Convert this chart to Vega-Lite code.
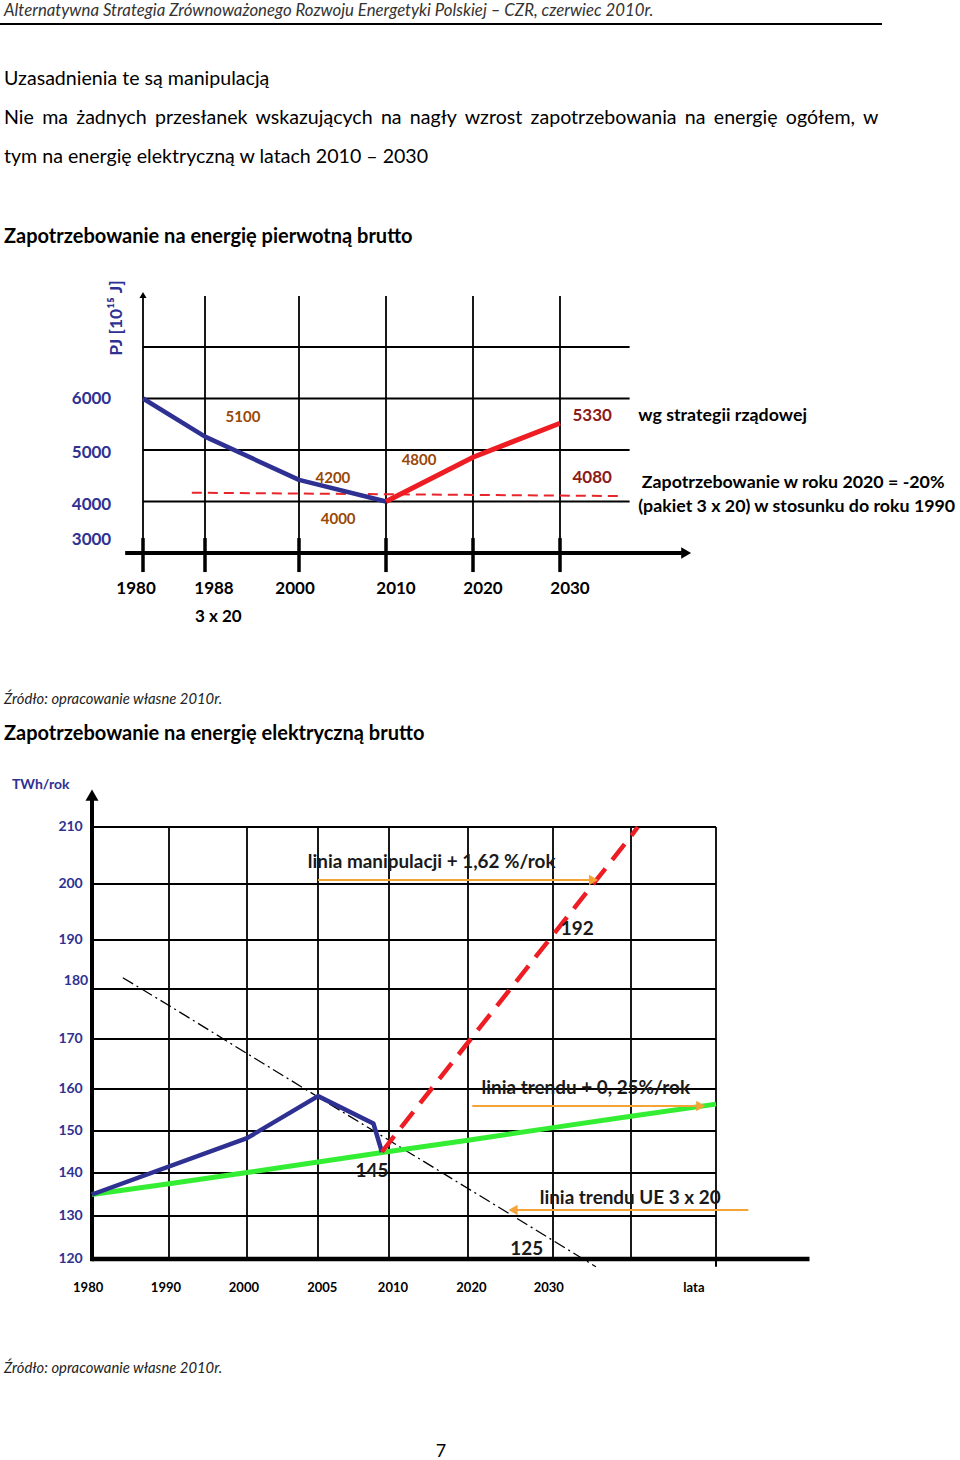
{
  "$schema": "https://vega.github.io/schema/vega-lite/v6.json",
  "padding": {"top": 3, "left": 0, "right": 0, "bottom": 0},
  "background": "white",
  "spacing": 5,
  "config": {"view": {"stroke": null}, "font": "Lato"},
  "datasets": {
    "pj_primary": [{"year": 1980, "pj": 6000}, {"year": 1988, "pj": 5260}, {"year": 2000, "pj": 4420}, {"year": 2010, "pj": 4000}],
    "pj_strategy": [{"year": 2010, "pj": 4000}, {"year": 2020, "pj": 4860}, {"year": 2030, "pj": 5520}],
    "pj_target": [{"year": 1986.3, "pj": 4170}, {"year": 2037, "pj": 4105}],
    "pj_hgrid": [{"pj": 4000}, {"pj": 5000}, {"pj": 6000}, {"pj": 7000}],
    "pj_vgrid": [{"year": 1980}, {"year": 1988}, {"year": 2000}, {"year": 2010}, {"year": 2020}, {"year": 2030}],
    "pj_ylabels": [{"label": "6000", "pj": 6000}, {"label": "5000", "pj": 4940}, {"label": "4000", "pj": 3930}, {"label": "3000", "pj": 3250}],
    "pj_xlabels": [{"label": "1980", "year": 1979.1}, {"label": "1988", "year": 1989.15}, {"label": "2000", "year": 1999.5}, {"label": "2010", "year": 2011.15}, {"label": "2020", "year": 2021.15}, {"label": "2030", "year": 2031.15}],
    "pj_values": [{"label": "5100", "year": 1992.85, "pj": 5641}, {"label": "4200", "year": 2003.9, "pj": 4456}, {"label": "4000", "year": 2004.5, "pj": 3660}, {"label": "4800", "year": 2013.8, "pj": 4806}],
    "pj_values2": [{"label": "5330", "year": 2033.7, "pj": 5660}, {"label": "4080", "year": 2033.7, "pj": 4456}],
    "pj_notes": [{"label": "wg strategii rządowej", "year": 2039, "pj": 5660}, {"label": "Zapotrzebowanie w roku 2020 = -20%", "year": 2039.4, "pj": 4359}, {"label": "(pakiet 3 x 20) w stosunku do roku 1990", "year": 2039, "pj": 3893}],
    "el_hgrid": [{"twh": 130}, {"twh": 140}, {"twh": 150}, {"twh": 160}, {"twh": 170}, {"twh": 180}, {"twh": 190}, {"twh": 200}, {"twh": 210}],
    "el_vgrid": [{"year": 1990}, {"year": 2000}, {"year": 2005}, {"year": 2010}, {"year": 2020}, {"year": 2030}, {"year": 2040}, {"year": 2050}],
    "el_actual": [{"year": 1980, "twh": 135}, {"year": 2000, "twh": 148.3}, {"year": 2005, "twh": 158.3}, {"year": 2008.9, "twh": 151.8}, {"year": 2009.5, "twh": 145}],
    "el_trend": [{"year": 1980, "twh": 135}, {"year": 1990, "twh": 137.5}, {"year": 2000, "twh": 140.1}, {"year": 2005, "twh": 142.6}, {"year": 2010, "twh": 145.1}, {"year": 2020, "twh": 147.8}, {"year": 2030, "twh": 150.8}, {"year": 2040, "twh": 153.5}, {"year": 2050, "twh": 156.4}],
    "el_manip": [{"year": 2009.5, "twh": 145}, {"year": 2010, "twh": 147.2}, {"year": 2020, "twh": 169.3}, {"year": 2030, "twh": 190.9}, {"year": 2040, "twh": 208.4}, {"year": 2040.8, "twh": 210}],
    "el_eu": [{"year": 1984, "twh": 182.3}, {"year": 1990, "twh": 176.7}, {"year": 2000, "twh": 167.1}, {"year": 2005, "twh": 158.1}, {"year": 2010, "twh": 147.8}, {"year": 2020, "twh": 136.4}, {"year": 2030, "twh": 124.3}, {"year": 2035.5, "twh": 118.2}],
    "el_arrows": [{"from": 2005, "to": 2035.2, "twh": 200.7, "dir": "right"}, {"from": 2020.5, "to": 2048.2, "twh": 155.95, "dir": "right"}, {"from": 2053.8, "to": 2025.3, "twh": 131.4, "dir": "left"}],
    "el_notes": [{"label": "linia manipulacji + 1,62 %/rok", "year": 2015.4, "twh": 203.9}, {"label": "192", "year": 2033.1, "twh": 192.0}, {"label": "linia trendu + 0, 25%/rok", "year": 2034.2, "twh": 160.2}, {"label": "145", "year": 2008.8, "twh": 140.5}, {"label": "linia trendu UE 3 x 20", "year": 2039.9, "twh": 134.2}, {"label": "125", "year": 2026.9, "twh": 122.3}],
    "el_ylabels": [{"label": "210", "twh": 210, "year": 1978.8}, {"label": "200", "twh": 200, "year": 1978.8}, {"label": "190", "twh": 190, "year": 1978.8}, {"label": "180", "twh": 181.6, "year": 1979.5}, {"label": "170", "twh": 170, "year": 1978.8}, {"label": "160", "twh": 160, "year": 1978.8}, {"label": "150", "twh": 150, "year": 1978.8}, {"label": "140", "twh": 140, "year": 1978.8}, {"label": "130", "twh": 130, "year": 1978.8}, {"label": "120", "twh": 120, "year": 1978.8}],
    "el_xlabels": [{"label": "1980", "year": 1979.5}, {"label": "1990", "year": 1989.6}, {"label": "2000", "year": 1999.6}, {"label": "2005", "year": 2005.3}, {"label": "2010", "year": 2010.5}, {"label": "2020", "year": 2020.4}, {"label": "2030", "year": 2029.5}, {"label": "lata", "year": 2047.4}]
  },
  "vconcat": [
    {
      "width": 882,
      "height": 2,
      "view": {"fill": "black", "stroke": null},
      "title": {"text": "Alternatywna Strategia Zrównoważonego Rozwoju Energetyki Polskiej – CZR, czerwiec 2010r.", "anchor": "start", "frame": "group", "fontSize": 16.8, "fontStyle": "italic", "fontWeight": "normal", "color": "#333333", "dx": 4, "offset": 3},
      "data": {"values": []},
      "mark": "point"
    },
    {
      "width": 960,
      "height": 427,
      "title": {
        "text": ["", "Uzasadnienia te są manipulacją", "Nie\u2006 ma\u2006 żadnych\u2006 przesłanek\u2006 wskazujących\u2006 na\u2006 nagły\u2006 wzrost\u2006 zapotrzebowania\u2006 na\u2006 energię\u2006 ogółem,\u2006 w", "tym na energię elektryczną w latach 2010 – 2030"],
        "anchor": "start", "frame": "group", "fontSize": 19.6, "fontWeight": "normal", "color": "black", "lineHeight": 39, "dx": 4, "offset": 12,
        "subtitle": "Zapotrzebowanie na energię pierwotną brutto", "subtitleFontSize": 20, "subtitleFontWeight": "bold", "subtitleColor": "black", "subtitlePadding": 59
      },
      "resolve": {"scale": {"x": "independent", "y": "independent"}},
      "layer": [
        {"data": {"name": "pj_hgrid"}, "mark": {"type": "rule", "color": "black", "strokeWidth": 1.8},
         "encoding": {"y": {"field": "pj", "type": "quantitative", "scale": {"type": "linear", "domain": [3000, 7000], "range": [293, 87], "nice": false, "zero": false}, "axis": null},
                      "x": {"datum": 1980, "type": "quantitative", "scale": {"type": "linear", "domain": [1980, 1988, 2000, 2010, 2020, 2030], "range": [143, 205, 299, 386, 473, 560], "nice": false, "zero": false}, "axis": null}, "x2": {"datum": 2038}}},
        {"data": {"name": "pj_vgrid"}, "mark": {"type": "rule", "color": "black", "strokeWidth": 1.8},
         "encoding": {"x": {"field": "year", "type": "quantitative", "scale": {"type": "linear", "domain": [1980, 1988, 2000, 2010, 2020, 2030], "range": [143, 205, 299, 386, 473, 560], "nice": false, "zero": false}, "axis": null},
                      "y": {"datum": 2630, "type": "quantitative", "scale": {"type": "linear", "domain": [3000, 7000], "range": [293, 87], "nice": false, "zero": false}, "axis": null}, "y2": {"datum": 7990}}},
        {"data": {"name": "pj_vgrid"}, "mark": {"type": "rule", "color": "black", "strokeWidth": 3.5},
         "encoding": {"x": {"field": "year", "type": "quantitative", "scale": {"type": "linear", "domain": [1980, 1988, 2000, 2010, 2020, 2030], "range": [143, 205, 299, 386, 473, 560], "nice": false, "zero": false}, "axis": null},
                      "y": {"datum": 2630, "type": "quantitative", "scale": {"type": "linear", "domain": [3000, 7000], "range": [293, 87], "nice": false, "zero": false}, "axis": null}, "y2": {"datum": 3290}}},
        {"data": {"values": [{}]}, "mark": {"type": "rule", "color": "black", "strokeWidth": 4},
         "encoding": {"y": {"datum": 3000, "type": "quantitative", "scale": {"type": "linear", "domain": [3000, 7000], "range": [293, 87], "nice": false, "zero": false}, "axis": null},
                      "x": {"datum": 1977.7, "type": "quantitative", "scale": {"type": "linear", "domain": [1980, 1988, 2000, 2010, 2020, 2030], "range": [143, 205, 299, 386, 473, 560], "nice": false, "zero": false}, "axis": null}, "x2": {"datum": 2044}}},
        {"data": {"values": [{}]}, "mark": {"type": "point", "shape": "triangle-up", "filled": true, "color": "black", "opacity": 1, "size": 50},
         "encoding": {"y": {"datum": 8010, "type": "quantitative", "scale": {"type": "linear", "domain": [3000, 7000], "range": [293, 87], "nice": false, "zero": false}, "axis": null},
                      "x": {"datum": 1980, "type": "quantitative", "scale": {"type": "linear", "domain": [1980, 1988, 2000, 2010, 2020, 2030], "range": [143, 205, 299, 386, 473, 560], "nice": false, "zero": false}, "axis": null}}},
        {"data": {"values": [{}]}, "mark": {"type": "point", "shape": "triangle-right", "filled": true, "color": "black", "opacity": 1, "size": 130},
         "encoding": {"y": {"datum": 3000, "type": "quantitative", "scale": {"type": "linear", "domain": [3000, 7000], "range": [293, 87], "nice": false, "zero": false}, "axis": null},
                      "x": {"datum": 2044.5, "type": "quantitative", "scale": {"type": "linear", "domain": [1980, 1988, 2000, 2010, 2020, 2030], "range": [143, 205, 299, 386, 473, 560], "nice": false, "zero": false}, "axis": null}}},
        {"data": {"name": "pj_target"}, "mark": {"type": "line", "color": "#E8262A", "strokeWidth": 2, "strokeDash": [10, 6]},
         "encoding": {"x": {"field": "year", "type": "quantitative", "scale": {"type": "linear", "domain": [1980, 1988, 2000, 2010, 2020, 2030], "range": [143, 205, 299, 386, 473, 560], "nice": false, "zero": false}, "axis": null},
                      "y": {"field": "pj", "type": "quantitative", "scale": {"type": "linear", "domain": [3000, 7000], "range": [293, 87], "nice": false, "zero": false}, "axis": null}}},
        {"data": {"name": "pj_primary"}, "mark": {"type": "line", "color": "#2E3192", "strokeWidth": 4.5, "strokeJoin": "round"},
         "encoding": {"x": {"field": "year", "type": "quantitative", "scale": {"type": "linear", "domain": [1980, 1988, 2000, 2010, 2020, 2030], "range": [143, 205, 299, 386, 473, 560], "nice": false, "zero": false}, "axis": null},
                      "y": {"field": "pj", "type": "quantitative", "scale": {"type": "linear", "domain": [3000, 7000], "range": [293, 87], "nice": false, "zero": false}, "axis": null}}},
        {"data": {"name": "pj_strategy"}, "mark": {"type": "line", "color": "#EE1D23", "strokeWidth": 5},
         "encoding": {"x": {"field": "year", "type": "quantitative", "scale": {"type": "linear", "domain": [1980, 1988, 2000, 2010, 2020, 2030], "range": [143, 205, 299, 386, 473, 560], "nice": false, "zero": false}, "axis": null},
                      "y": {"field": "pj", "type": "quantitative", "scale": {"type": "linear", "domain": [3000, 7000], "range": [293, 87], "nice": false, "zero": false}, "axis": null}}},
        {"data": {"name": "pj_ylabels"}, "mark": {"type": "text", "align": "right", "fontWeight": "bold", "fontSize": 17, "color": "#2E3192"},
         "encoding": {"text": {"field": "label"}, "y": {"field": "pj", "type": "quantitative", "scale": {"type": "linear", "domain": [3000, 7000], "range": [293, 87], "nice": false, "zero": false}, "axis": null},
                      "x": {"datum": 1975.9, "type": "quantitative", "scale": {"type": "linear", "domain": [1980, 1988, 2000, 2010, 2020, 2030], "range": [143, 205, 299, 386, 473, 560], "nice": false, "zero": false}, "axis": null}}},
        {"data": {"name": "pj_xlabels"}, "mark": {"type": "text", "fontWeight": "bold", "fontSize": 17, "color": "black"},
         "encoding": {"text": {"field": "label"}, "x": {"field": "year", "type": "quantitative", "scale": {"type": "linear", "domain": [1980, 1988, 2000, 2010, 2020, 2030], "range": [143, 205, 299, 386, 473, 560], "nice": false, "zero": false}, "axis": null},
                      "y": {"datum": 2301, "type": "quantitative", "scale": {"type": "linear", "domain": [3000, 7000], "range": [293, 87], "nice": false, "zero": false}, "axis": null}}},
        {"data": {"values": [{}]}, "mark": {"type": "text", "text": "3 x 20", "fontWeight": "bold", "fontSize": 17, "color": "black"},
         "encoding": {"x": {"datum": 1989.7, "type": "quantitative", "scale": {"type": "linear", "domain": [1980, 1988, 2000, 2010, 2020, 2030], "range": [143, 205, 299, 386, 473, 560], "nice": false, "zero": false}, "axis": null},
                      "y": {"datum": 1757, "type": "quantitative", "scale": {"type": "linear", "domain": [3000, 7000], "range": [293, 87], "nice": false, "zero": false}, "axis": null}}},
        {"data": {"values": [{}]}, "mark": {"type": "text", "text": "PJ [10¹⁵ J]", "angle": 270, "fontWeight": "bold", "fontSize": 17.5, "color": "#2E3192"},
         "encoding": {"x": {"datum": 1976.6, "type": "quantitative", "scale": {"type": "linear", "domain": [1980, 1988, 2000, 2010, 2020, 2030], "range": [143, 205, 299, 386, 473, 560], "nice": false, "zero": false}, "axis": null},
                      "y": {"datum": 7563, "type": "quantitative", "scale": {"type": "linear", "domain": [3000, 7000], "range": [293, 87], "nice": false, "zero": false}, "axis": null}}},
        {"data": {"name": "pj_values"}, "mark": {"type": "text", "fontWeight": "bold", "fontSize": 15, "color": "#984807"},
         "encoding": {"text": {"field": "label"}, "x": {"field": "year", "type": "quantitative", "scale": {"type": "linear", "domain": [1980, 1988, 2000, 2010, 2020, 2030], "range": [143, 205, 299, 386, 473, 560], "nice": false, "zero": false}, "axis": null},
                      "y": {"field": "pj", "type": "quantitative", "scale": {"type": "linear", "domain": [3000, 7000], "range": [293, 87], "nice": false, "zero": false}, "axis": null}}},
        {"data": {"name": "pj_values2"}, "mark": {"type": "text", "fontWeight": "bold", "fontSize": 17, "color": "#8B1A1A"},
         "encoding": {"text": {"field": "label"}, "x": {"field": "year", "type": "quantitative", "scale": {"type": "linear", "domain": [1980, 1988, 2000, 2010, 2020, 2030], "range": [143, 205, 299, 386, 473, 560], "nice": false, "zero": false}, "axis": null},
                      "y": {"field": "pj", "type": "quantitative", "scale": {"type": "linear", "domain": [3000, 7000], "range": [293, 87], "nice": false, "zero": false}, "axis": null}}},
        {"data": {"name": "pj_notes"}, "mark": {"type": "text", "align": "left", "fontWeight": "bold", "fontSize": 17.8, "color": "black"},
         "encoding": {"text": {"field": "label"}, "x": {"field": "year", "type": "quantitative", "scale": {"type": "linear", "domain": [1980, 1988, 2000, 2010, 2020, 2030], "range": [143, 205, 299, 386, 473, 560], "nice": false, "zero": false}, "axis": null},
                      "y": {"field": "pj", "type": "quantitative", "scale": {"type": "linear", "domain": [3000, 7000], "range": [293, 87], "nice": false, "zero": false}, "axis": null}}}
      ]
    },
    {
      "width": 960,
      "height": 595,
      "title": {
        "text": "Źródło: opracowanie własne 2010r.",
        "anchor": "start", "frame": "group", "fontSize": 14.8, "fontStyle": "italic", "fontWeight": "normal", "color": "#222222", "dx": 4, "offset": 17,
        "subtitle": "Zapotrzebowanie na energię elektryczną brutto", "subtitleFontSize": 20, "subtitleFontWeight": "bold", "subtitleColor": "black", "subtitlePadding": 17
      },
      "resolve": {"scale": {"x": "independent", "y": "independent"}},
      "layer": [
        {"data": {"name": "el_hgrid"}, "mark": {"type": "rule", "color": "black", "strokeWidth": 1.8},
         "encoding": {"y": {"field": "twh", "type": "quantitative", "scale": {"type": "linear", "domain": [120, 130, 140, 150, 160, 170, 180, 190, 200, 210], "range": [498, 455, 412, 370, 328, 278, 228, 179, 123, 66], "nice": false, "zero": false}, "axis": null},
                      "x": {"datum": 1980, "type": "quantitative", "scale": {"type": "linear", "domain": [1980, 1990, 2000, 2005, 2010, 2020, 2030, 2040, 2050], "range": [92, 169, 247, 318, 389, 468, 553, 631, 716], "nice": false, "zero": false}, "axis": null}, "x2": {"datum": 2050}}},
        {"data": {"name": "el_vgrid"}, "mark": {"type": "rule", "color": "black", "strokeWidth": 1.8},
         "encoding": {"x": {"field": "year", "type": "quantitative", "scale": {"type": "linear", "domain": [1980, 1990, 2000, 2005, 2010, 2020, 2030, 2040, 2050], "range": [92, 169, 247, 318, 389, 468, 553, 631, 716], "nice": false, "zero": false}, "axis": null},
                      "y": {"datum": 120, "type": "quantitative", "scale": {"type": "linear", "domain": [120, 130, 140, 150, 160, 170, 180, 190, 200, 210], "range": [498, 455, 412, 370, 328, 278, 228, 179, 123, 66], "nice": false, "zero": false}, "axis": null}, "y2": {"datum": 210}}},
        {"data": {"values": [{}]}, "mark": {"type": "rule", "color": "black", "strokeWidth": 2},
         "encoding": {"x": {"datum": 2050, "type": "quantitative", "scale": {"type": "linear", "domain": [1980, 1990, 2000, 2005, 2010, 2020, 2030, 2040, 2050], "range": [92, 169, 247, 318, 389, 468, 553, 631, 716], "nice": false, "zero": false}, "axis": null},
                      "y": {"datum": 118.2, "type": "quantitative", "scale": {"type": "linear", "domain": [120, 130, 140, 150, 160, 170, 180, 190, 200, 210], "range": [498, 455, 412, 370, 328, 278, 228, 179, 123, 66], "nice": false, "zero": false}, "axis": null}, "y2": {"datum": 120}}},
        {"data": {"values": [{}]}, "mark": {"type": "rule", "color": "black", "strokeWidth": 4},
         "encoding": {"x": {"datum": 1980, "type": "quantitative", "scale": {"type": "linear", "domain": [1980, 1990, 2000, 2005, 2010, 2020, 2030, 2040, 2050], "range": [92, 169, 247, 318, 389, 468, 553, 631, 716], "nice": false, "zero": false}, "axis": null},
                      "y": {"datum": 119.5, "type": "quantitative", "scale": {"type": "linear", "domain": [120, 130, 140, 150, 160, 170, 180, 190, 200, 210], "range": [498, 455, 412, 370, 328, 278, 228, 179, 123, 66], "nice": false, "zero": false}, "axis": null}, "y2": {"datum": 215.2}}},
        {"data": {"values": [{}]}, "mark": {"type": "point", "shape": "triangle-up", "filled": true, "color": "black", "opacity": 1, "size": 170},
         "encoding": {"x": {"datum": 1980, "type": "quantitative", "scale": {"type": "linear", "domain": [1980, 1990, 2000, 2005, 2010, 2020, 2030, 2040, 2050], "range": [92, 169, 247, 318, 389, 468, 553, 631, 716], "nice": false, "zero": false}, "axis": null},
                      "y": {"datum": 215.6, "type": "quantitative", "scale": {"type": "linear", "domain": [120, 130, 140, 150, 160, 170, 180, 190, 200, 210], "range": [498, 455, 412, 370, 328, 278, 228, 179, 123, 66], "nice": false, "zero": false}, "axis": null}}},
        {"data": {"values": [{}]}, "mark": {"type": "rule", "color": "black", "strokeWidth": 4.5},
         "encoding": {"y": {"datum": 120, "type": "quantitative", "scale": {"type": "linear", "domain": [120, 130, 140, 150, 160, 170, 180, 190, 200, 210], "range": [498, 455, 412, 370, 328, 278, 228, 179, 123, 66], "nice": false, "zero": false}, "axis": null},
                      "x": {"datum": 1980, "type": "quantitative", "scale": {"type": "linear", "domain": [1980, 1990, 2000, 2005, 2010, 2020, 2030, 2040, 2050], "range": [92, 169, 247, 318, 389, 468, 553, 631, 716], "nice": false, "zero": false}, "axis": null}, "x2": {"datum": 2061}}},
        {"data": {"name": "el_eu"}, "mark": {"type": "line", "color": "black", "strokeWidth": 1.3, "strokeDash": [12, 4, 2, 4]},
         "encoding": {"x": {"field": "year", "type": "quantitative", "scale": {"type": "linear", "domain": [1980, 1990, 2000, 2005, 2010, 2020, 2030, 2040, 2050], "range": [92, 169, 247, 318, 389, 468, 553, 631, 716], "nice": false, "zero": false}, "axis": null},
                      "y": {"field": "twh", "type": "quantitative", "scale": {"type": "linear", "domain": [120, 130, 140, 150, 160, 170, 180, 190, 200, 210], "range": [498, 455, 412, 370, 328, 278, 228, 179, 123, 66], "nice": false, "zero": false}, "axis": null}}},
        {"data": {"name": "el_trend"}, "mark": {"type": "line", "color": "#33EE33", "strokeWidth": 5},
         "encoding": {"x": {"field": "year", "type": "quantitative", "scale": {"type": "linear", "domain": [1980, 1990, 2000, 2005, 2010, 2020, 2030, 2040, 2050], "range": [92, 169, 247, 318, 389, 468, 553, 631, 716], "nice": false, "zero": false}, "axis": null},
                      "y": {"field": "twh", "type": "quantitative", "scale": {"type": "linear", "domain": [120, 130, 140, 150, 160, 170, 180, 190, 200, 210], "range": [498, 455, 412, 370, 328, 278, 228, 179, 123, 66], "nice": false, "zero": false}, "axis": null}}},
        {"data": {"name": "el_actual"}, "mark": {"type": "line", "color": "#2E3192", "strokeWidth": 4.5, "strokeJoin": "round"},
         "encoding": {"x": {"field": "year", "type": "quantitative", "scale": {"type": "linear", "domain": [1980, 1990, 2000, 2005, 2010, 2020, 2030, 2040, 2050], "range": [92, 169, 247, 318, 389, 468, 553, 631, 716], "nice": false, "zero": false}, "axis": null},
                      "y": {"field": "twh", "type": "quantitative", "scale": {"type": "linear", "domain": [120, 130, 140, 150, 160, 170, 180, 190, 200, 210], "range": [498, 455, 412, 370, 328, 278, 228, 179, 123, 66], "nice": false, "zero": false}, "axis": null}}},
        {"data": {"name": "el_manip"}, "mark": {"type": "line", "color": "#EE1D23", "strokeWidth": 4.5, "strokeDash": [20, 11]},
         "encoding": {"x": {"field": "year", "type": "quantitative", "scale": {"type": "linear", "domain": [1980, 1990, 2000, 2005, 2010, 2020, 2030, 2040, 2050], "range": [92, 169, 247, 318, 389, 468, 553, 631, 716], "nice": false, "zero": false}, "axis": null},
                      "y": {"field": "twh", "type": "quantitative", "scale": {"type": "linear", "domain": [120, 130, 140, 150, 160, 170, 180, 190, 200, 210], "range": [498, 455, 412, 370, 328, 278, 228, 179, 123, 66], "nice": false, "zero": false}, "axis": null}}},
        {"data": {"name": "el_notes"}, "mark": {"type": "text", "fontWeight": "bold", "fontSize": 18.9, "color": "#1A1A1A"},
         "encoding": {"text": {"field": "label"}, "x": {"field": "year", "type": "quantitative", "scale": {"type": "linear", "domain": [1980, 1990, 2000, 2005, 2010, 2020, 2030, 2040, 2050], "range": [92, 169, 247, 318, 389, 468, 553, 631, 716], "nice": false, "zero": false}, "axis": null},
                      "y": {"field": "twh", "type": "quantitative", "scale": {"type": "linear", "domain": [120, 130, 140, 150, 160, 170, 180, 190, 200, 210], "range": [498, 455, 412, 370, 328, 278, 228, 179, 123, 66], "nice": false, "zero": false}, "axis": null}}},
        {"data": {"name": "el_arrows"}, "mark": {"type": "rule", "color": "#F4A436", "strokeWidth": 2},
         "encoding": {"x": {"field": "from", "type": "quantitative", "scale": {"type": "linear", "domain": [1980, 1990, 2000, 2005, 2010, 2020, 2030, 2040, 2050], "range": [92, 169, 247, 318, 389, 468, 553, 631, 716], "nice": false, "zero": false}, "axis": null}, "x2": {"field": "to"},
                      "y": {"field": "twh", "type": "quantitative", "scale": {"type": "linear", "domain": [120, 130, 140, 150, 160, 170, 180, 190, 200, 210], "range": [498, 455, 412, 370, 328, 278, 228, 179, 123, 66], "nice": false, "zero": false}, "axis": null}}},
        {"data": {"name": "el_arrows"}, "mark": {"type": "point", "filled": true, "color": "#F4A436", "opacity": 1, "size": 110},
         "encoding": {"x": {"field": "to", "type": "quantitative", "scale": {"type": "linear", "domain": [1980, 1990, 2000, 2005, 2010, 2020, 2030, 2040, 2050], "range": [92, 169, 247, 318, 389, 468, 553, 631, 716], "nice": false, "zero": false}, "axis": null},
                      "y": {"field": "twh", "type": "quantitative", "scale": {"type": "linear", "domain": [120, 130, 140, 150, 160, 170, 180, 190, 200, 210], "range": [498, 455, 412, 370, 328, 278, 228, 179, 123, 66], "nice": false, "zero": false}, "axis": null},
                      "shape": {"field": "dir", "type": "nominal", "scale": {"domain": ["right", "left"], "range": ["triangle-right", "triangle-left"]}, "legend": null}}},
        {"data": {"name": "el_ylabels"}, "mark": {"type": "text", "align": "right", "fontWeight": "bold", "fontSize": 14, "color": "#2E3192"},
         "encoding": {"text": {"field": "label"}, "x": {"field": "year", "type": "quantitative", "scale": {"type": "linear", "domain": [1980, 1990, 2000, 2005, 2010, 2020, 2030, 2040, 2050], "range": [92, 169, 247, 318, 389, 468, 553, 631, 716], "nice": false, "zero": false}, "axis": null},
                      "y": {"field": "twh", "type": "quantitative", "scale": {"type": "linear", "domain": [120, 130, 140, 150, 160, 170, 180, 190, 200, 210], "range": [498, 455, 412, 370, 328, 278, 228, 179, 123, 66], "nice": false, "zero": false}, "axis": null}}},
        {"data": {"values": [{}]}, "mark": {"type": "text", "text": "TWh/rok", "align": "left", "fontWeight": "bold", "fontSize": 14, "color": "#2E3192"},
         "encoding": {"x": {"datum": 1969.6, "type": "quantitative", "scale": {"type": "linear", "domain": [1980, 1990, 2000, 2005, 2010, 2020, 2030, 2040, 2050], "range": [92, 169, 247, 318, 389, 468, 553, 631, 716], "nice": false, "zero": false}, "axis": null},
                      "y": {"datum": 217.4, "type": "quantitative", "scale": {"type": "linear", "domain": [120, 130, 140, 150, 160, 170, 180, 190, 200, 210], "range": [498, 455, 412, 370, 328, 278, 228, 179, 123, 66], "nice": false, "zero": false}, "axis": null}}},
        {"data": {"name": "el_xlabels"}, "mark": {"type": "text", "fontWeight": "bold", "fontSize": 13, "color": "black"},
         "encoding": {"text": {"field": "label"}, "x": {"field": "year", "type": "quantitative", "scale": {"type": "linear", "domain": [1980, 1990, 2000, 2005, 2010, 2020, 2030, 2040, 2050], "range": [92, 169, 247, 318, 389, 468, 553, 631, 716], "nice": false, "zero": false}, "axis": null},
                      "y": {"datum": 113.3, "type": "quantitative", "scale": {"type": "linear", "domain": [120, 130, 140, 150, 160, 170, 180, 190, 200, 210], "range": [498, 455, 412, 370, 328, 278, 228, 179, 123, 66], "nice": false, "zero": false}, "axis": null}}}
      ]
    },
    {
      "width": 960,
      "height": 60,
      "title": {"text": "Źródło: opracowanie własne 2010r.", "anchor": "start", "frame": "group", "fontSize": 14.8, "fontStyle": "italic", "fontWeight": "normal", "color": "#222222", "dx": 4, "offset": 2},
      "data": {"values": []},
      "mark": "point"
    },
    {
      "width": 882,
      "height": 1,
      "title": {"text": "7", "anchor": "middle", "frame": "group", "fontSize": 18, "fontWeight": "normal", "color": "black", "offset": 2},
      "data": {"values": []},
      "mark": "point"
    }
  ]
}
